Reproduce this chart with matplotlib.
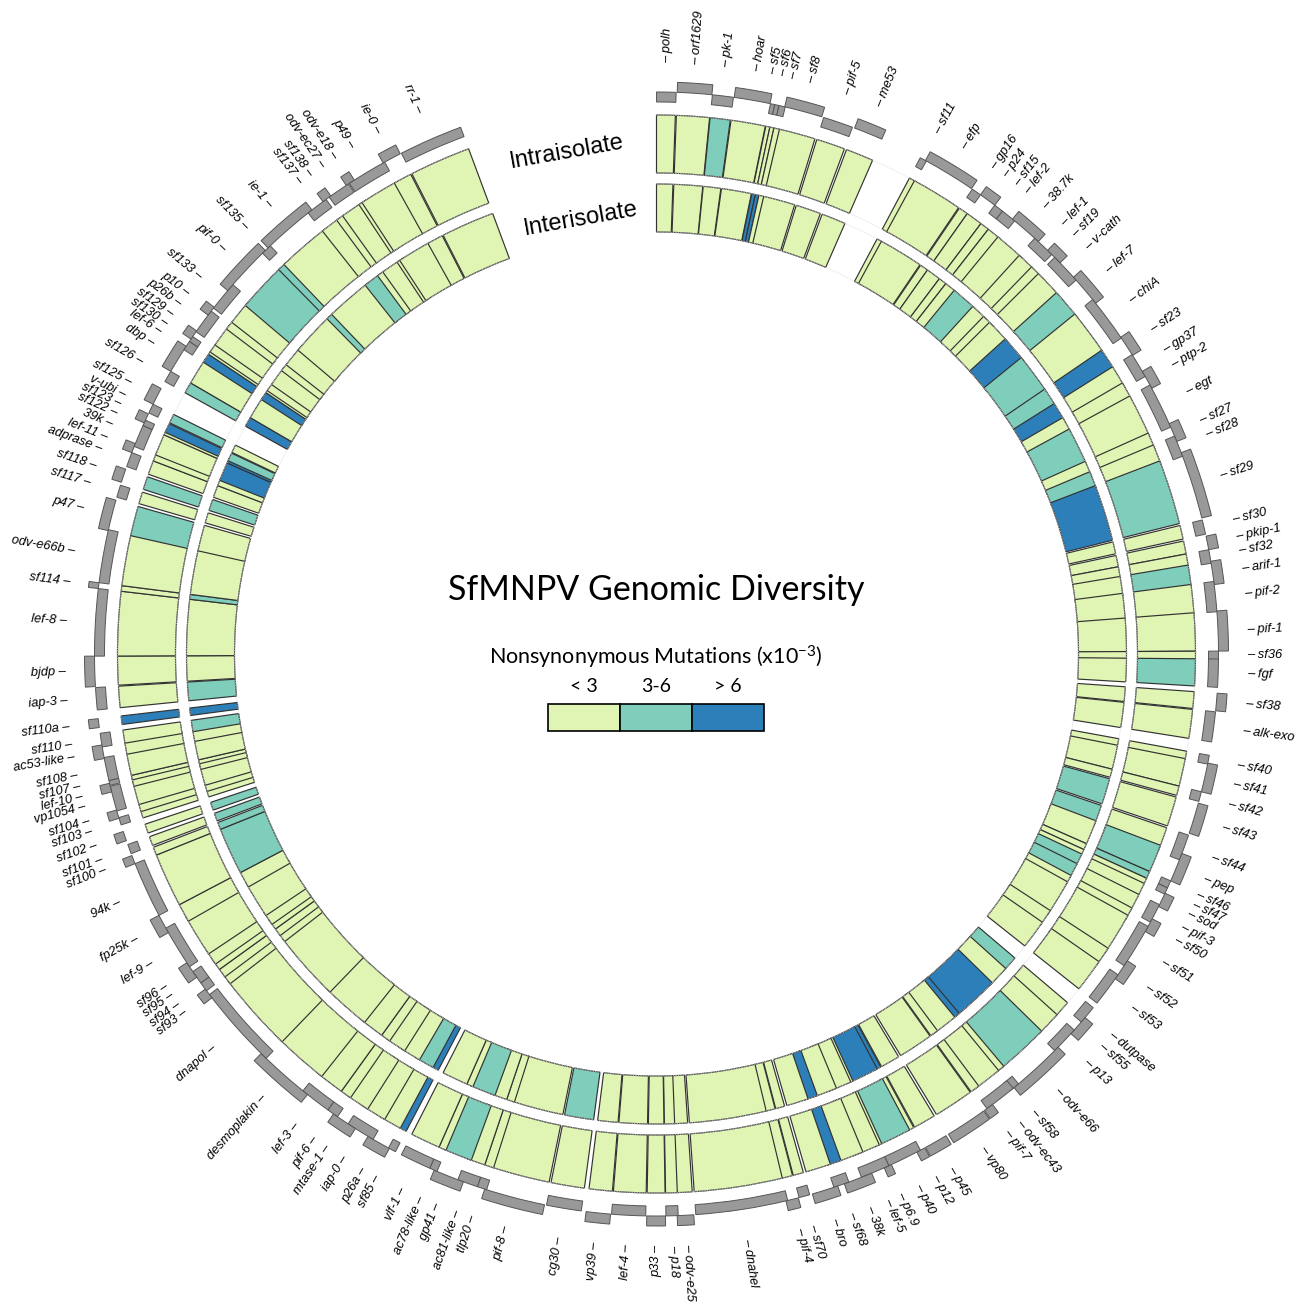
# -*- coding: utf-8 -*-
"""
Circular genome map of SfMNPV: gene blocks by strand on the outer track,
nonsynonymous mutation classes per gene for intra- and interisolate diversity.
"""

import numpy as np
import matplotlib
matplotlib.use("Agg")
import matplotlib.pyplot as plt
from matplotlib.patches import Rectangle

GENOME_KB = 131.5
ARC_DEG = 342.7

## GENE TABLE (positions in kb, strand +1 = outer lane, -1 = inner lane) ##
gene_names = [
    "polh", "orf1629", "pk-1", "hoar", "sf5", "sf6", "sf7", "sf8", "pif-5", "me53",
    "sf11", "efp", "gp16", "p24", "sf15", "lef-2", "38.7k", "lef-1", "sf19", "v-cath",
    "lef-7", "chiA", "sf23", "gp37", "ptp-2", "egt", "sf27", "sf28", "sf29", "sf30",
    "pkip-1", "sf32", "arif-1", "pif-2", "pif-1", "sf36", "fgf", "sf38", "alk-exo", "sf40",
    "sf41", "sf42", "sf43", "sf44", "pep", "sf46", "sf47", "sod", "pif-3", "sf50",
    "sf51", "sf52", "sf53", "dutpase", "sf55", "p13", "odv-e66", "sf58", "odv-ec43", "pif-7",
    "vp80", "p45", "p12", "p40", "p6.9", "lef-5", "38k", "sf68", "bro", "sf70",
    "pif-4", "dnahel", "odv-e25", "p18", "p33", "lef-4", "vp39", "cg30", "pif-8", "tlp20",
    "ac81-like", "gp41", "ac78-like", "vlf-1", "sf85", "p26a", "iap-0", "mtase-1", "pif-6", "lef-3",
    "desmoplakin", "dnapol", "sf93", "sf94", "sf95", "sf96", "lef-9", "fp25k", "94k", "sf100",
    "sf101", "sf102", "sf103", "sf104", "vp1054", "lef-10", "sf107", "sf108", "ac53-like", "sf110",
    "sf110a", "iap-3", "bjdp", "lef-8", "sf114", "odv-e66b", "p47", "sf117", "sf118", "adprase",
    "lef-11", "39k", "sf122", "sf123", "v-ubi", "sf125", "sf126", "dbp", "lef-6", "sf130",
    "sf129", "p26b", "p10", "sf133", "pif-0", "sf135", "ie-1", "sf137", "sf138", "odv-ec27",
    "odv-e18", "p49", "ie-0", "rr-1",
]

start_kb = [
    0.00, 0.81, 2.19, 3.05, 4.49, 4.66, 4.83, 5.06, 6.64, 7.92,
    10.74, 10.97, 13.12, 13.51, 14.20, 14.58, 15.08, 16.23, 16.92, 17.31,
    18.38, 19.53, 21.37, 22.18, 22.95, 23.56, 25.25, 25.78, 26.48, 29.24,
    29.89, 30.43, 30.89, 31.69, 32.85, 34.42, 34.73, 36.07, 36.80, 38.52,
    38.83, 39.98, 40.44, 41.75, 42.51, 43.67, 43.97, 44.20, 44.70, 45.32,
    45.66, 47.23, 47.89, 49.50, 50.00, 50.65, 51.57, 53.68, 53.95, 54.98,
    55.41, 57.17, 58.13, 58.32, 59.59, 59.70, 60.43, 61.39, 61.85, 63.00,
    63.46, 63.89, 67.61, 68.22, 68.72, 69.49, 70.87, 72.02, 73.48, 75.82,
    76.20, 76.78, 77.89, 78.20, 79.69, 79.96, 80.69, 81.50, 82.34, 82.80,
    83.80, 85.95, 89.13, 89.48, 89.86, 90.13, 90.63, 92.20, 92.97, 95.20,
    95.62, 96.16, 96.81, 97.08, 97.38, 98.15, 98.42, 98.61, 99.49, 99.95,
    100.72, 101.41, 102.33, 103.52, 106.17, 106.40, 108.47, 109.82, 110.43, 111.08,
    111.66, 111.92, 112.81, 112.92, 113.35, 113.73, 114.73, 115.19, 116.18, 116.57,
    116.68, 117.03, 117.83, 118.18, 119.06, 121.06, 121.36, 123.44, 124.17, 124.47,
    125.28, 125.43, 126.97, 127.78,
]

end_kb = [
    0.77, 2.17, 3.02, 4.47, 4.66, 4.83, 5.08, 6.56, 7.83, 9.07,
    11.01, 13.08, 13.51, 14.20, 14.58, 15.19, 16.42, 17.15, 17.61, 18.53,
    19.72, 21.41, 22.22, 23.18, 23.71, 25.40, 26.01, 26.63, 29.16, 29.81,
    30.43, 30.97, 31.81, 32.88, 34.42, 34.76, 35.84, 36.76, 37.99, 38.87,
    39.98, 40.37, 41.67, 42.78, 43.67, 43.97, 44.24, 44.78, 45.47, 45.89,
    47.46, 48.08, 49.27, 50.23, 50.84, 51.76, 53.91, 54.10, 55.25, 55.37,
    57.06, 58.09, 58.48, 59.70, 59.90, 60.86, 61.58, 62.01, 62.89, 63.43,
    63.96, 67.53, 68.26, 68.70, 69.45, 70.83, 71.83, 73.40, 75.90, 76.20,
    77.01, 78.01, 78.20, 79.43, 80.00, 80.92, 81.84, 82.53, 82.80, 84.03,
    86.22, 89.29, 89.56, 89.86, 90.40, 90.82, 92.40, 92.97, 95.20, 95.54,
    96.00, 96.54, 97.11, 97.42, 98.38, 98.50, 98.61, 99.53, 100.03, 100.49,
    101.07, 102.29, 103.52, 106.17, 106.40, 108.51, 109.70, 110.31, 110.97, 111.66,
    112.04, 112.81, 113.04, 113.31, 113.73, 114.42, 115.19, 116.34, 116.57, 116.80,
    117.07, 118.03, 118.22, 119.37, 121.21, 121.48, 123.63, 124.32, 124.55, 125.39,
    125.66, 127.04, 127.73, 130.31,
]

strand = [
    -1, 1, -1, 1, -1, -1, -1, 1, -1, 1,
    -1, 1, -1, 1, -1, -1, 1, -1, 1, -1,
    1, -1, 1, -1, 1, -1, 1, -1, 1, -1,
    1, -1, 1, -1, 1, -1, -1, 1, -1, -1,
    1, -1, 1, -1, 1, -1, -1, 1, -1, 1,
    -1, 1, -1, -1, 1, -1, 1, -1, -1, 1,
    1, 1, 1, -1, 1, -1, 1, -1, 1, -1,
    1, -1, 1, -1, 1, -1, 1, -1, 1, -1,
    -1, 1, -1, -1, -1, 1, -1, 1, -1, -1,
    1, -1, 1, -1, -1, 1, -1, 1, -1, 1,
    -1, 1, -1, 1, -1, 1, -1, -1, 1, -1,
    1, -1, 1, -1, 1, -1, 1, -1, 1, -1,
    1, -1, -1, 1, -1, 1, -1, 1, -1, -1,
    1, -1, 1, -1, 1, -1, 1, -1, 1, -1,
    1, -1, 1, -1,
]

# mutation class per gene: 0 = <3, 1 = 3-6, 2 = >6, -1 = no data
intra_class = [
    0, 0, 1, 0, 0, 0, 0, 0, 0, 0,
    0, 0, 0, 0, 0, 0, 0, 0, 0, 0,
    1, 0, 2, 0, 0, 0, 0, 0, 1, 0,
    0, 0, 1, 0, 0, 0, 1, 0, 0, 0,
    0, 0, 0, 0, 1, 1, 0, 0, 0, 0,
    0, 0, 0, -1, 0, 0, 1, 0, 0, 0,
    0, 0, 0, 1, 0, 0, 0, 2, 0, 0,
    0, 0, 0, 0, 0, 0, 0, 0, 0, 0,
    0, 1, 0, 0, 2, 0, 0, 0, 0, 0,
    0, 0, 0, 0, 0, 0, 0, 0, 0, 0,
    0, 0, 0, 0, 0, 0, 0, 0, 0, 0,
    2, 0, 0, 0, 0, 0, 1, 0, 1, 0,
    0, 0, 0, 2, 1, -1, 1, 0, 2, 0,
    0, 0, 0, 0, 1, 1, 0, 0, 0, 0,
    0, 0, 0, 0,
]

inter_class = [
    0, 0, 0, 0, 2, 2, 0, 0, 0, 0,
    0, 0, 0, 0, 0, 0, 1, 0, 0, 0,
    2, 1, 1, 2, 0, 1, 0, 1, 2, 0,
    0, 0, 0, 0, 0, 0, 0, 0, 0, 0,
    0, 0, 1, 1, 0, 0, 0, 1, 1, 0,
    0, 0, 0, -1, 1, 0, 2, 2, 0, 0,
    0, 0, 2, 2, 0, 0, 0, 2, 0, 0,
    0, 0, 0, 0, 0, 0, 0, 1, 0, 0,
    0, 1, 0, 0, 2, 1, 0, 0, 0, 0,
    0, 0, 0, 0, 0, 0, 0, 0, 1, 1,
    1, 1, 0, 0, 0, 0, 0, 0, 0, 1,
    2, 1, 0, 0, 1, 0, 0, 0, 1, 0,
    0, 2, 2, 1, 0, -1, 2, 0, 2, 0,
    0, 0, 0, 0, 0, 1, 0, 1, 0, 0,
    0, 0, 0, 0,
]

class_labels = ["< 3", "3-6", "> 6"]
class_colors = ["#e0f5b3", "#7fcdbb", "#2c7fb8"]


def to_theta(kb):
    return np.deg2rad(np.asarray(kb, dtype=float) / GENOME_KB * ARC_DEG)


def spread_labels(angles, min_gap, n_iter=500):
    a = np.array(angles, dtype=float)
    for _ in range(n_iter):
        moved = False
        for i in range(len(a) - 1):
            d = a[i + 1] - a[i]
            if d < min_gap:
                shift = (min_gap - d) / 2.0
                a[i] -= shift
                a[i + 1] += shift
                moved = True
        if not moved:
            break
    return a


## FIGURE ##
W, H = 1309, 1305
CX, CY, R = 656.5, 654, 650
fig = plt.figure(figsize=(W / 100, H / 100), dpi=100)
ax = fig.add_axes([(CX - R) / W, (H - CY - R) / H, 2 * R / W, 2 * R / H],
                  projection="polar")
ax.set_theta_zero_location("N")
ax.set_theta_direction(-1)
ax.set_ylim(0, R)
ax.set_axis_off()

th0 = to_theta(start_kb)
th1 = to_theta(end_kb)
mid = (th0 + th1) / 2
width = th1 - th0

# faint outline of the data rings (visible where genes have no segment)
arc = np.linspace(0, to_theta(max(end_kb)), 600)
for r in [422, 470, 481, 539]:
    ax.plot(arc, np.full_like(arc, r), color="#dadada", lw=0.6, ls=(0, (1, 1)))

## GENE TRACK ##
lane_bottom = np.where(np.array(strand) > 0, 562, 552)
ax.bar(mid, 10, width=width, bottom=lane_bottom, color="#999999",
       edgecolor="#555555", linewidth=0.7)

## DIVERSITY RINGS ##
rings = [(intra_class, 481, 539), (inter_class, 422, 470)]
for cls, r0, r1 in rings:
    cls = np.array(cls)
    keep = cls >= 0
    ax.bar(mid[keep], r1 - r0, width=width[keep], bottom=r0,
           color=[class_colors[c] for c in cls[keep]],
           edgecolor="#333333", linewidth=0.85)

## GENE LABELS ##
label_deg = spread_labels(np.degrees(mid), 1.0)
for name, a in zip(gene_names, label_deg):
    if a < 180:
        ax.text(np.deg2rad(a), 591, "\u2013 " + name, rotation=90 - a,
                rotation_mode="anchor", ha="left", va="center", fontsize=9.3,
                style="italic", family="Liberation Sans")
    else:
        ax.text(np.deg2rad(a), 591, name + " \u2013", rotation=270 - a,
                rotation_mode="anchor", ha="right", va="center", fontsize=9.3,
                style="italic", family="Liberation Sans")

# ring names in the gap at the top
ax.text(np.deg2rad(-10.15), 510, "Intraisolate", rotation=10, rotation_mode="anchor",
        ha="center", va="center", fontsize=17, family="Liberation Sans")
ax.text(np.deg2rad(-9.85), 441, "Interisolate", rotation=10, rotation_mode="anchor",
        ha="center", va="center", fontsize=17, family="Liberation Sans")

## TITLE AND LEGEND ##
ov = fig.add_axes([0, 0, 1, 1])
ov.set_xlim(0, W)
ov.set_ylim(H, 0)
ov.set_axis_off()

ov.text(656, 590, "SfMNPV Genomic Diversity", ha="center", va="center",
        fontsize=24.5, family="Lato")
ov.text(656, 657, "Nonsynonymous Mutations (x10$\\mathregular{^{-3}}$)",
        ha="center", va="center", fontsize=15.5, family="Lato")

box_w, box_h, box_x0, box_y0 = 72, 27, 548, 704
for i, (lab, col) in enumerate(zip(class_labels, class_colors)):
    ov.add_patch(Rectangle((box_x0 + i * box_w, box_y0), box_w, box_h,
                           facecolor=col, edgecolor="black", linewidth=1.2))
    ov.text(box_x0 + (i + 0.5) * box_w, 687, lab, ha="center", va="center",
            fontsize=14, family="Lato")

fig.savefig("out.png", dpi=100)
